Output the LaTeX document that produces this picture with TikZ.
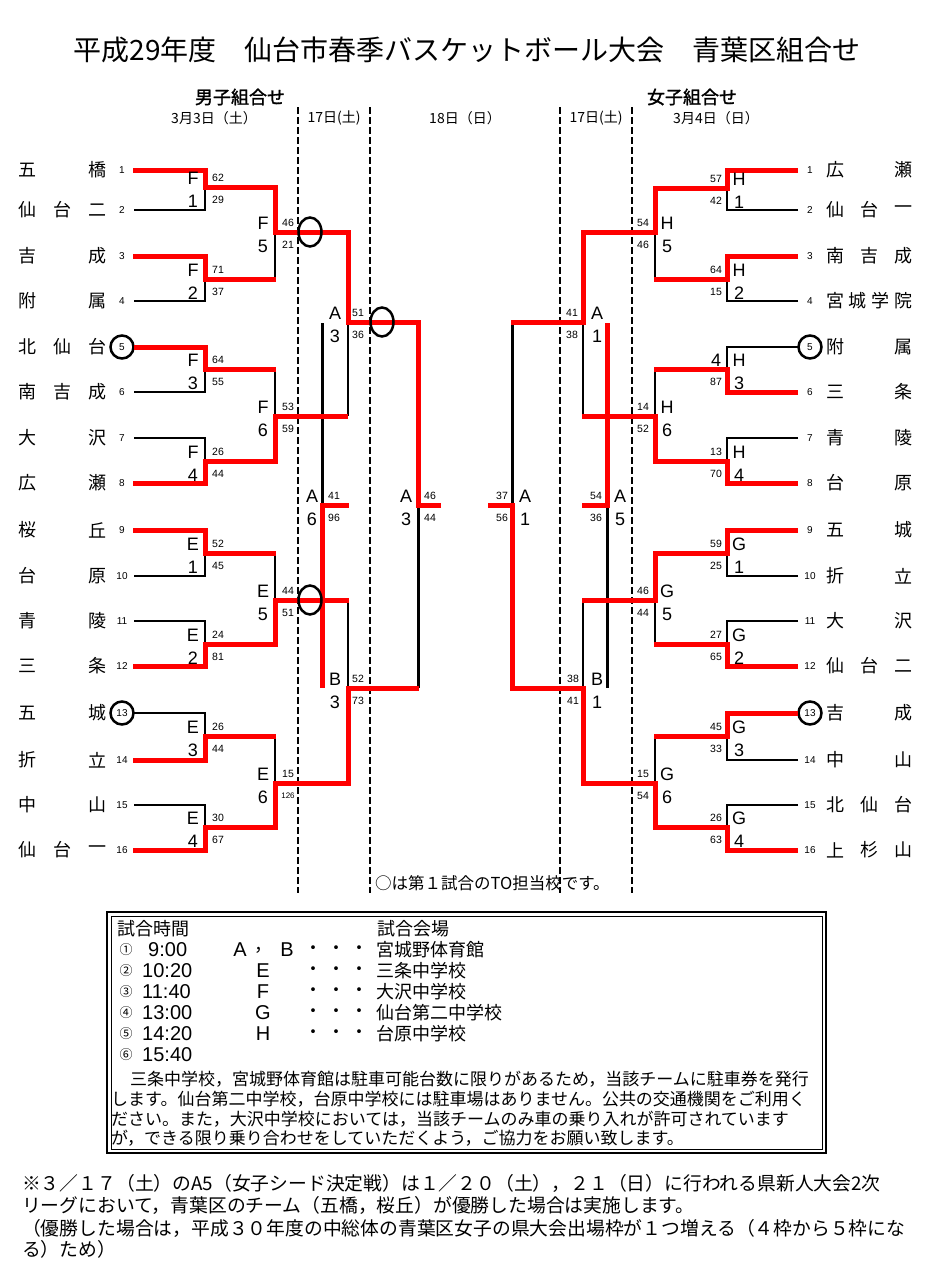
\documentclass[tikz,border=0pt]{standalone}
\usepackage{fontspec}
\setmainfont{Noto Sans CJK JP}
\newfontfamily\jp{Noto Sans CJK JP}
\newfontfamily\jpb{Noto Sans CJK JP}[FakeBold=1.5]
\newfontfamily\la{Liberation Sans}
\newcommand{\myfs}[1]{\fontsize{#1}{#1}\selectfont}
\tikzset{
  rd/.style={draw=red, line width=5pt},
  bk/.style={draw=black, line width=1.8pt},
  tk/.style={draw=black, line width=3pt},
  dl/.style={draw=black, line width=1.5pt, dash pattern=on 7pt off 3pt},
  dlt/.style={draw=black, line width=2.6pt, dash pattern=on 7pt off 3pt},
  lab/.style={font={\la\myfs{18}}, inner sep=0},
  sc/.style={font={\la\myfs{10.5}}, inner sep=0},
  nm/.style={font={\jp\myfs{18}}, inner sep=0},
  sd/.style={font={\la\myfs{10}}, inner sep=0},
  toc/.style={draw=black, line width=2.5pt},
  tx/.style={inner sep=0, anchor=west},
}
\begin{document}
\begin{tikzpicture}[x=1pt,y=-1pt]
\fill[white] (0,0) rectangle (933,1274);
\useasboundingbox (0,0) rectangle (933,1274);

% headers
\node[inner sep=0, font={\jp\myfs{28}}] (title) at (467,50) {平成29年度　仙台市春季バスケットボール大会　青葉区組合せ};
\node[inner sep=0, font={\jpb\myfs{18}}] (boys) at (240,97) {男子組合せ};
\node[inner sep=0, font={\jpb\myfs{18}}] (girls) at (692,97) {女子組合せ};
\node[inner sep=0, font={\jp\myfs{14}}] (d1) at (214,118) {3月3日（土）};
\node[inner sep=0, font={\jp\myfs{14}}] (d2) at (334,118) {17日(土)};
\node[inner sep=0, font={\jp\myfs{14}}] (d3) at (465,118) {18日（日）};
\node[inner sep=0, font={\jp\myfs{14}}] (d4) at (596,118) {17日(土)};
\node[inner sep=0, font={\jp\myfs{14}}] (d5) at (716,118) {3月4日（日）};

% dashed day separators
\draw[dl] (298,107) -- (298,893);
\draw[dl] (370,107) -- (370,893);
\draw[dl] (560,107) -- (560,893);
\draw[dlt] (632,107) -- (632,893);

% team names, left
\foreach \y/\a/\b/\c in {170/五//橋,210/仙/台/二,256/吉//成,301/附//属,347/北/仙/台,392/南/吉/成,438/大//沢,483/広//瀬,530/桜//丘,576/台//原,621/青//陵,666/三//条,713/五//城,760/折//立,805/中//山,850/仙/台/一}{
  \node[nm] (la\y) at (28,\y) {\a};
  \node[nm] (lb\y) at (62.5,\y) {\b};
  \node[nm] (lc\y) at (97,\y) {\c};
}
% team names, right
\foreach \y/\a/\b/\c in {170/広//瀬,210/仙/台/一,256/南/吉/成,347/附//属,392/三//条,438/青//陵,483/台//原,530/五//城,576/折//立,621/大//沢,666/仙/台/二,713/吉//成,760/中//山,805/北/仙/台,850/上/杉/山}{
  \node[nm] (ra\y) at (835,\y) {\a};
  \node[nm] (rb\y) at (869,\y) {\b};
  \node[nm] (rc\y) at (903,\y) {\c};
}
\node[nm] (rw1) at (835,301) {宮};
\node[nm] (rw2) at (857.7,301) {城};
\node[nm] (rw3) at (880.3,301) {学};
\node[nm] (rw4) at (903,301) {院};

% seed numbers
\foreach \i/\y in {1/170,2/210,3/256,4/301,5/347,6/392,7/438,8/483,9/530,10/576,11/621,12/666,13/713,14/760,15/805,16/850}{
  \node[sd] (sl\i) at (122,\y) {\i};
  \node[sd] (sr\i) at (810,\y) {\i};
}
\draw[toc] (sl5) circle (11.5);
\draw[toc] (sl13) circle (11.5);
\draw[toc] (sr5) circle (11.5);
\draw[toc] (sr13) circle (11.5);

% black lines, men
\draw[bk] (134,210)--(205,210)--(205,187);
\draw[bk] (134,301)--(205,301)--(205,279);
\draw[bk] (134,392)--(205,392)--(205,369);
\draw[bk] (134,438)--(205,438)--(205,461);
\draw[bk] (134,576)--(205,576)--(205,553);
\draw[bk] (134,621)--(205,621)--(205,644);
\draw[bk] (134,713)--(205,713)--(205,736);
\draw[bk] (134,805)--(205,805)--(205,827);
\draw[bk] (275,232)--(275,279);
\draw[bk] (275,369)--(275,416);
\draw[bk] (275,553)--(275,600);
\draw[bk] (275,736)--(275,783);
\draw[bk] (348,322)--(348,416);
\draw[bk] (348,600)--(348,688);
\draw[tk] (322,323)--(322,505);
\draw[tk] (418,505)--(418,688);

% black lines, women
\draw[bk] (798,210)--(727,210)--(727,188);
\draw[bk] (798,301)--(727,301)--(727,279);
\draw[bk] (798,347)--(727,347)--(727,369);
\draw[bk] (798,438)--(727,438)--(727,461);
\draw[bk] (798,576)--(727,576)--(727,553);
\draw[bk] (798,621)--(727,621)--(727,644);
\draw[bk] (798,760)--(727,760)--(727,736);
\draw[bk] (798,805)--(727,805)--(727,827);
\draw[bk] (655,232)--(655,279);
\draw[bk] (655,369)--(655,416);
\draw[bk] (655,600)--(655,644);
\draw[bk] (655,736)--(655,783);
\draw[bk] (583,322)--(583,416);
\draw[bk] (583,600)--(583,688);
\draw[tk] (512,322)--(512,505);
\draw[tk] (607,505)--(607,688);

% red winner paths, men
\draw[rd] (133,170)--(205,170)--(205,187)--(275,187)--(275,232)--(348,232)--(348,322)--(418,322)--(418,505)--(441,505);
\draw[rd] (133,256)--(205,256)--(205,279)--(276,279);
\draw[rd] (134,347)--(205,347)--(205,369)--(276,369);
\draw[rd] (133,483)--(205,483)--(205,461)--(275,461)--(275,416)--(348,416);
\draw[rd] (133,530)--(205,530)--(205,553)--(276,553);
\draw[rd] (133,666)--(205,666)--(205,644)--(275,644)--(275,600)--(349,600);
\draw[rd] (133,760)--(205,760)--(205,736)--(276,736);
\draw[rd] (133,850)--(205,850)--(205,827)--(275,827)--(275,783)--(348,783)--(348,688)--(419,688);
\draw[rd] (322,688)--(322,505)--(349,505);

% red winner paths, women
\draw[rd] (798,170)--(727,170)--(727,188)--(655,188)--(655,232)--(583,232)--(583,322)--(511,322);
\draw[rd] (798,256)--(727,256)--(727,279)--(654,279);
\draw[rd] (798,392)--(727,392)--(727,369)--(654,369);
\draw[rd] (798,483)--(727,483)--(727,461)--(655,461)--(655,416)--(582,416);
\draw[rd] (798,530)--(727,530)--(727,553)--(655,553)--(655,600)--(582,600);
\draw[rd] (798,666)--(727,666)--(727,644)--(654,644);
\draw[rd] (798,713)--(727,713)--(727,736)--(654,736);
\draw[rd] (798,850)--(727,850)--(727,827)--(655,827)--(655,783)--(583,783)--(583,688)--(512,688)--(512,505)--(488,505);
\draw[rd] (607,323)--(607,505)--(582,505);

% TO circles
\draw[toc] (310,232) ellipse (11.5 and 14.5);
\draw[toc] (382,322) ellipse (11.5 and 14.5);
\draw[toc] (310,600) ellipse (11.5 and 14.5);

% match labels, men (letter x / score x / mid y / letter / number / score top / score bottom)
\foreach \xl/\xs/\m/\L/\N/\a/\b in {
193/218/187/F/1/62/29, 193/218/279/F/2/71/37, 193/218/369/F/3/64/55, 193/218/461/F/4/26/44,
193/218/553/E/1/52/45, 193/218/644/E/2/24/81, 193/218/736/E/3/26/44, 193/218/827/E/4/30/67,
263/288/232/F/5/46/21, 263/288/416/F/6/53/59, 263/288/600/E/5/44/51, 263/288/783/E/6/15/{\myfs{8}126},
335/358/322/A/3/51/36, 335/358/688/B/3/52/73, 312/334/505/A/6/41/96, 406/430/505/A/3/46/44,
739/716/188/H/1/57/42, 739/716/279/H/2/64/15, 739/716/369/H/3/{\myfs{18}4}/87, 739/716/461/H/4/13/70,
739/716/553/G/1/59/25, 739/716/644/G/2/27/65, 739/716/736/G/3/45/33, 739/716/827/G/4/26/63,
667/643/232/H/5/54/46, 667/643/416/H/6/14/52, 667/643/600/G/5/46/44, 667/643/783/G/6/15/54,
597/572/322/A/1/41/38, 597/573/688/B/1/38/41, 620/596/505/A/5/54/36, 525/502/505/A/1/37/56}{
  \node[lab] (L\xl-\m) at (\xl,\m-9) {\L};
  \node[lab] (N\xl-\m) at (\xl,\m+14) {\N};
  \node[sc] (A\xs-\m) at (\xs,\m-9) {\a};
  \node[sc] (B\xs-\m) at (\xs,\m+13) {\b};
}

\node[tx, font={\jp\myfs{16.5}}] (tonote) at (375,883) {○は第１試合のTO担当校です。};

% schedule box
\draw[line width=2pt] (107,912) rectangle (826,1153);
\draw[line width=1pt] (111,916) rectangle (822,1149);
\node[tx, font={\jp\myfs{18}}] (h1) at (117,929) {試合時間};
\node[tx, font={\jp\myfs{18}}] (h2) at (377,929) {試合会場};
\foreach \y/\c/\xt/\t in {950/①/148/9:00, 971/②/142/10:20, 992/③/142/11:40, 1013/④/142/13:00, 1034/⑤/142/14:20, 1055/⑥/142/15:40}{
  \node[inner sep=0, font={\jp\myfs{13}}] (c\y) at (126,\y) {\c};
  \node[tx, font={\la\myfs{20}}] (t\y) at (\xt,\y) {\t};
}
\node[inner sep=0, font={\la\myfs{20}}] (gA) at (240,950) {A};
\node[inner sep=0, font={\jp\myfs{18}}] (gc) at (263,950) {，};
\node[inner sep=0, font={\la\myfs{20}}] (gB) at (287,950) {B};
\foreach \y/\g/\v in {950//宮城野体育館, 971/E/三条中学校, 992/F/大沢中学校, 1013/G/仙台第二中学校, 1034/H/台原中学校}{
  \node[inner sep=0, font={\la\myfs{20}}] (g\y) at (263,\y) {\g};
  \node[inner sep=0, font={\jp\myfs{18}}] (p1\y) at (313,\y) {・};
  \node[inner sep=0, font={\jp\myfs{18}}] (p2\y) at (336,\y) {・};
  \node[inner sep=0, font={\jp\myfs{18}}] (p3\y) at (359,\y) {・};
  \node[tx, font={\jp\myfs{18}}] (v\y) at (376,\y) {\v};
}
\node[tx, font={\jp\myfs{17}}] (pa1) at (130,1079) {三条中学校，宮城野体育館は駐車可能台数に限りがあるため，当該チームに駐車券を発行};
\node[tx, font={\jp\myfs{17}}] (pa2) at (111,1099) {します。仙台第二中学校，台原中学校には駐車場はありません。公共の交通機関をご利用く};
\node[tx, font={\jp\myfs{17}}] (pa3) at (111,1119) {ださい。また，大沢中学校においては，当該チームのみ車の乗り入れが許可されています};
\node[tx, font={\jp\myfs{17}}] (pa4) at (111,1138) {が，できる限り乗り合わせをしていただくよう，ご協力をお願い致します。};

% footnote
\node[tx, font={\jp\myfs{18.8}}] (n1) at (22,1183) {※３／１７（土）のA5（女子シード決定戦）は１／２０（土），２１（日）に行われる県新人大会2次};
\node[tx, font={\jp\myfs{18.8}}] (n2) at (22,1205) {リーグにおいて，青葉区のチーム（五橋，桜丘）が優勝した場合は実施します。};
\node[tx, font={\jp\myfs{18.8}}] (n3) at (22,1228) {（優勝した場合は，平成３０年度の中総体の青葉区女子の県大会出場枠が１つ増える（４枠から５枠にな};
\node[tx, font={\jp\myfs{18.8}}] (n4) at (22,1249) {る）ため）};
\end{tikzpicture}
\end{document}
